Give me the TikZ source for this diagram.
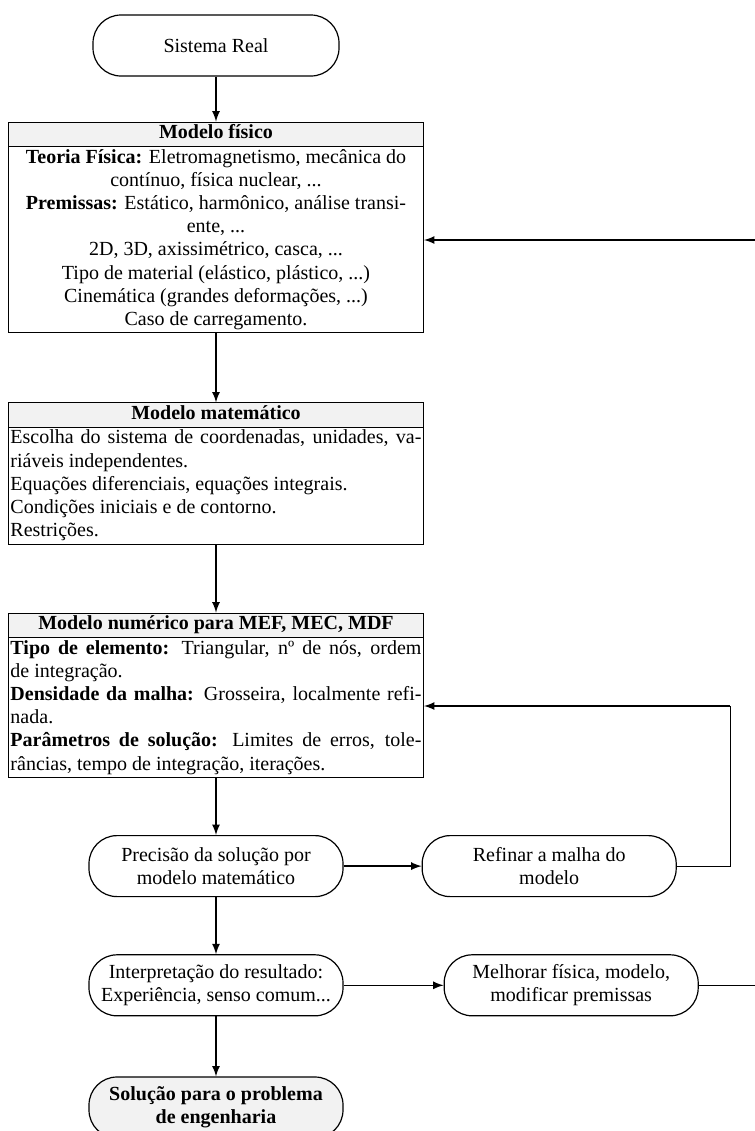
\documentclass[tikz,border=0pt]{standalone}
\usepackage{fontspec}
\setmainfont{Liberation Serif}
\usepackage{tikz}
\usetikzlibrary{shapes.multipart, arrows, positioning}
\setlength{\parindent}{0pt}
\tikzstyle{terminal} = [rectangle, rounded corners=14pt, minimum width=127pt, minimum height=30.5pt, align=center, draw=black, line width=0.6pt]
\tikzstyle{model} = [rectangle split, rectangle split parts=2, rectangle split draw splits, rectangle split part fill={black!5,white}, draw=black, line width=0.5pt, text width=205.5pt, inner xsep=1pt, inner ysep=0pt, align=justify]
\tikzstyle{arrow} = [line width=0.8pt, ->, >=latex]
\tikzstyle{loopline} = [line width=0.5pt]

\begin{document}
\begin{tikzpicture}[font=\fontsize{10}{11.6}\selectfont]
  \useasboundingbox (0,0) rectangle (377.5pt,-565.5pt);
  \node (real) [terminal, minimum width=123pt] at (108pt,-22.75pt) {Sistema Real};
  \node (fisico) [model, below=22.5pt of real] {\centering\bfseries\strut Modelo físico\strut\par
    \nodepart{two}\centering\strut\textbf{Teoria Física:} Eletromagnetismo, mecânica do\\
    contínuo, física nuclear, ...\\
    \textbf{Premissas:} Estático, harmônico, análise transi-\\
    ente, ...\\
    2D, 3D, axissimétrico, casca, ...\\
    Tipo de material (elástico, plástico, ...)\\
    Cinemática (grandes deformações, ...)\\
    Caso de carregamento.\strut\par};
  \node (matem) [model, below=34.5pt of fisico] {\centering\bfseries\strut Modelo matemático\strut\par
    \nodepart{two}\strut Escolha do sistema de coordenadas, unidades, va-\linebreak riáveis independentes.\par
    Equações diferenciais, equações integrais.\par
    Condições iniciais e de contorno.\par
    Restrições.\strut};
  \node (numer) [model, below=34pt of matem] {\centering\bfseries\strut Modelo numérico para MEF, MEC, MDF\strut\par
    \nodepart{two}\strut\textbf{Tipo de elemento:} Triangular, nº de nós, ordem\linebreak de integração.\par
    \textbf{Densidade da malha:} Grosseira, localmente refi-\linebreak nada.\par
    \textbf{Parâmetros de solução:} Limites de erros, tole-\linebreak râncias, tempo de integração, iterações.\strut};
  \node (prec) [terminal, below=28.5pt of numer] {Precisão da solução por\\modelo matemático};
  \node (refin) [terminal, right=39pt of prec] {Refinar a malha do\\modelo};
  \node (interp) [terminal, below=28.5pt of prec] {Interpretação do resultado:\\Experiência, senso comum...};
  \node (melh) [terminal, right=50pt of interp] {Melhorar física, modelo,\\modificar premissas};
  \node (sol) [terminal, fill=black!5, font=\fontsize{10}{11.6}\selectfont\bfseries, below=30pt of interp] {Solução para o problema\\de engenharia};

  \coordinate (refback) at (365pt,-353pt);
  \coordinate (physback) at (380pt,-120pt);

  \draw[arrow] (real) -- (fisico);
  \draw[arrow] (fisico) -- (matem);
  \draw[arrow] (matem) -- (numer);
  \draw[arrow] (numer) -- (prec);
  \draw[arrow] (prec) -- (interp);
  \draw[arrow] (interp) -- (sol);
  \draw[arrow] (prec) -- (refin);
  \draw[arrow] (interp) -- (melh);
  \draw[loopline] (refin) -| (refback);
  \draw[arrow] (refback) -- (refback -| numer.east);
  \draw[loopline] (melh) -| (physback);
  \draw[arrow] (physback) -- (physback -| fisico.east);
\end{tikzpicture}
\end{document}
